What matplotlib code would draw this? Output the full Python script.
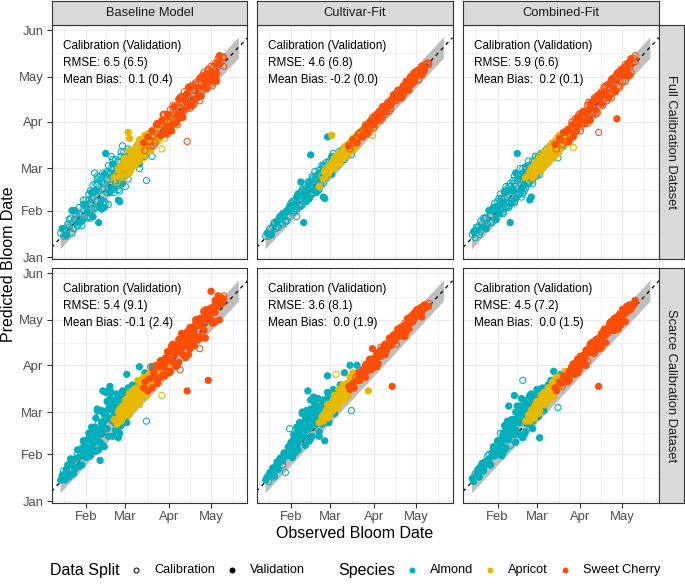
import matplotlib.pyplot as plt
from matplotlib.lines import Line2D

plt.rcParams['font.family'] = ['Liberation Sans', 'DejaVu Sans']

# -------------------------------
# Data (day of year, Jan 1 = 1)
# -------------------------------
almond_obs = [14, 15, 16, 17, 18, 19, 20, 21, 22, 23,
              24, 25, 26, 27, 28, 29, 30, 30, 31, 32,
              32, 33, 34, 34, 35, 35, 36, 36, 37, 37,
              38, 38, 39, 39, 40, 40, 41, 41, 42, 42,
              43, 43, 44, 44, 45, 45, 46, 46, 47, 47,
              48, 48, 49, 49, 50, 50, 51, 51, 52, 52,
              53, 53, 54, 54, 55, 55, 56, 56, 57, 57,
              58, 58, 59, 59, 60, 61, 62, 63, 64, 65,
              66, 67, 68, 69, 70, 72, 74, 75, 77, 79,
              18, 20, 22, 24, 26, 27, 29, 31, 33, 34,
              35, 36, 37, 38, 39, 40, 41, 42, 43, 44,
              44, 45, 46, 47, 48, 49, 50, 51, 52, 53,
              54, 55, 56, 57, 58, 59, 60, 61, 62, 63,
              40, 45, 50, 55, 48, 52, 57, 60, 65, 70]
apricot_obs = [52, 54, 55, 56, 57, 57, 58, 58, 59, 59,
               60, 60, 61, 61, 62, 62, 63, 63, 64, 64,
               65, 65, 66, 66, 67, 67, 68, 68, 69, 69,
               70, 70, 71, 71, 72, 72, 73, 73, 74, 74,
               75, 75, 76, 76, 77, 77, 78, 79, 80, 81,
               82, 83, 84, 85, 86, 87, 88, 89, 90, 92,
               56, 58, 60, 61, 62, 63, 64, 65, 66, 67,
               68, 69, 70, 71, 72, 73, 74, 75, 76, 77,
               62, 64, 66, 68, 70, 72, 74, 76, 78, 80,
               59, 63, 65, 67, 69, 71, 73, 75, 79, 83]
cherry_obs = [73, 74, 76, 77, 78, 79, 80, 81, 82, 83,
              84, 85, 86, 87, 88, 88, 89, 90, 90, 91,
              92, 92, 93, 94, 94, 95, 96, 96, 97, 98,
              98, 99, 99, 100, 100, 101, 102, 102, 103, 104,
              104, 105, 106, 106, 107, 108, 108, 109, 110, 110,
              111, 112, 112, 113, 114, 114, 115, 116, 116, 117,
              117, 118, 119, 119, 120, 121, 121, 122, 123, 124,
              124, 124, 125, 126, 126, 127, 128, 129, 130, 130,
              80, 83, 85, 87, 89, 91, 93, 95, 97, 99,
              101, 103, 105, 107, 109, 111, 113, 115, 117, 119,
              121, 123, 125, 127, 86, 90, 94, 98, 102, 106,
              110, 114, 118, 122, 126, 88, 96, 104, 112, 120,
              92, 100, 108, 116, 124, 97, 105, 113, 119, 125]

# c = calibration, v = validation
almond_split_full = ("cvccvcccvc ccvccvcccv cvccccvccc ccvcccvccv cvccccvccc ccvcccvccc ccccvcvccc "
                     "cvcccvcccv ccvccccccc cccvcccvcc ccvcccccvc cvccccvccc ccccvccvcc cvcccccccv")
apricot_split_full = ("vcvcvcvcvc cvvcvcvcvv vcvcvvcvcc cvcvvcvcvc vcvccvcvcv ccvccvcccv "
                      "vcvvcvcvcv cvcvvcvcvc vvcvcvcvvc cvcvcvcvcv")
cherry_split_full = ("vcvccvccvc cvccvccvcv ccvccvcvcv vccvccvcvc ccvcvccvcc vccvccvccv cvccvcvccc "
                     "cvcccvcccc cvccvcvccc vcvccvccvc ccvcvccvcc cvccvccvcc vccvccvccv")
almond_split_scarce = ("vvcvvvcvvv vcvvcvvvcv vvvcvvvvvv vvvvvvvcvv vvvvvvvvvv vvvvcvvvvv vvvvvvvvvv "
                       "vvvvvvvvvv vvvvvvvcvv vvvvcvvvvv vvvvvvcvvv vvvvvvvvvv vvvvvvvvvv vvvvvvvvvv")
apricot_split_scarce = ("vvvvvvvvvv vvvvvvvvcv vvvvvvvvvv vvvcvvvvvv vvvvvvvvvv vvvvcvvvvv "
                        "vvvvvvvvvv vvvvvvvcvv vvvvvvvvvv vcvvvvvvvv")
cherry_split_scarce = ("vvvvcvvvvv vvvvvvvvvv vvvvvvvcvv vcvvvvvvvv vvvvcvvvvv vvvcvvvvvv vvvvvvvvvv "
                       "vvvvvvvvvc vvvvvvvvvv vvvcvvvvvv vvvvvvvvvv vvvvvvvvvv vvvvvvvvvv")

# predicted bloom dates, full calibration dataset
almond_base_full = [17, 20, 15, 19, 16, 23, 21, 27, 32, 20, 26, 29, 24, 34, 29, 25, 36, 39, 28, 35,
                    39, 31, 39, 28, 45, 37, 44, 33, 41, 49, 57, 33, 45, 50, 38, 49, 24, 45, 54, 36,
                    51, 39, 46, 57, 38, 50, 70, 55, 44, 58, 62, 46, 44, 56, 60, 49, 63, 55, 48, 60,
                    66, 50, 60, 55, 39, 64, 38, 60, 71, 52, 75, 60, 56, 67, 64, 59, 73, 58, 70, 68,
                    62, 72, 66, 76, 60, 75, 68, 52, 79, 68,
                    15, 26, 17, 32, 22, 30, 22, 36, 27, 43, 27, 40, 28, 45, 34, 53, 35, 52, 33, 50,
                    37, 56, 37, 53, 36, 57, 46, 66, 44, 58, 48, 65, 45, 61, 50, 71, 55, 68, 53, 66,
                    55, 34, 68, 46, 57, 46, 68, 48, 70, 63]
almond_cult_full = [15, 17, 15, 20, 16, 21, 24, 20, 25, 21, 26, 24, 30, 28, 25, 32, 32, 28, 35, 33,
                    37, 35, 31, 38, 36, 33, 41, 28, 39, 43, 35, 42, 51, 35, 45, 42, 24, 47, 40, 45,
                    47, 40, 51, 45, 40, 51, 69, 49, 43, 55, 50, 54, 46, 58, 54, 48, 56, 45, 59, 55,
                    49, 59, 56, 62, 41, 58, 40, 61, 54, 64, 62, 81, 57, 65, 63, 56, 70, 65, 68, 66,
                    71, 64, 72, 71, 66, 75, 72, 69, 79, 78,
                    16, 23, 21, 28, 23, 29, 25, 34, 38, 32, 39, 33, 43, 36, 44, 36, 44, 49, 38, 46,
                    40, 50, 43, 53, 46, 53, 44, 54, 57, 50, 58, 50, 62, 54, 60, 64, 56, 68, 60, 67,
                    46, 40, 54, 62, 44, 46, 62, 63, 62, 72]
almond_comb_full = [16, 18, 14, 21, 19, 16, 25, 23, 21, 27, 27, 23, 32, 29, 24, 34, 31, 37, 29, 35,
                    38, 30, 38, 43, 33, 40, 37, 31, 44, 40, 48, 34, 45, 41, 48, 37, 24, 48, 46, 37,
                    52, 45, 38, 55, 48, 43, 70, 52, 43, 55, 53, 60, 46, 56, 52, 60, 49, 57, 61, 47,
                    60, 56, 65, 50, 39, 61, 41, 60, 65, 58, 64, 60, 68, 56, 65, 68, 60, 67, 70, 68,
                    68, 73, 65, 74, 71, 76, 72, 67, 80, 75,
                    21, 18, 27, 20, 32, 24, 33, 26, 40, 32, 40, 30, 45, 35, 45, 35, 50, 38, 46, 37,
                    50, 40, 56, 43, 55, 41, 55, 45, 61, 50, 62, 51, 62, 50, 61, 68, 55, 65, 56, 70,
                    34, 57, 43, 60, 43, 60, 53, 66, 62, 74]
apricot_base_full = [54, 51, 59, 57, 55, 62, 61, 54, 65, 59, 57, 64, 63, 56, 84, 65, 80, 61, 69, 60,
                     68, 71, 64, 70, 68, 64, 73, 70, 65, 72, 76, 69, 73, 75, 69, 77, 74, 71, 77, 81,
                     73, 79, 77, 72, 82, 79, 75, 85, 81, 79, 85, 78, 88, 84, 73, 92, 80, 91, 86, 93,
                     61, 54, 67, 59, 66, 57, 72, 62, 72, 62, 75, 65, 79, 69, 77, 67, 82, 72, 82, 76,
                     65, 72, 62, 74, 65, 76, 71, 83, 72, 82, 54, 72, 62, 73, 67, 79, 69, 80, 82, 79]
apricot_cult_full = [48, 55, 53, 58, 57, 60, 57, 60, 60, 57, 62, 59, 82, 62, 60, 65, 63, 65, 63, 67,
                     66, 63, 69, 66, 69, 66, 71, 69, 67, 71, 70, 73, 70, 73, 73, 70, 76, 73, 76, 73,
                     77, 74, 79, 77, 75, 79, 78, 82, 79, 83, 83, 81, 86, 84, 89, 87, 90, 88, 82, 89,
                     58, 55, 63, 60, 64, 67, 62, 68, 63, 68, 71, 67, 74, 68, 74, 72, 77, 73, 80, 74,
                     60, 67, 63, 70, 74, 70, 77, 72, 80, 83, 62, 61, 69, 64, 71, 75, 71, 78, 75, 85]
apricot_comb_full = [54, 53, 58, 56, 54, 59, 62, 56, 60, 62, 58, 63, 62, 58, 66, 64, 62, 66, 62, 69,
                     66, 69, 64, 69, 66, 69, 73, 65, 71, 69, 73, 68, 75, 72, 69, 74, 73, 77, 73, 77,
                     77, 72, 81, 77, 75, 80, 82, 78, 82, 77, 85, 84, 82, 89, 74, 89, 85, 90, 88, 96,
                     60, 55, 65, 59, 68, 59, 67, 70, 63, 71, 64, 74, 68, 77, 69, 78, 76, 71, 82, 75,
                     67, 60, 72, 65, 74, 67, 80, 74, 81, 76, 63, 60, 70, 63, 75, 69, 77, 70, 82, 80]
cherry_base_full = [77, 72, 81, 78, 75, 85, 82, 77, 89, 83, 89, 82, 89, 95, 86, 92, 84, 96, 91, 88,
                    99, 94, 89, 99, 93, 101, 99, 90, 101, 106, 96, 104, 100, 96, 107, 104, 99, 108,
                    105, 78, 109, 103, 114, 107, 102, 112, 115, 106, 112, 116, 107, 117, 113, 120,
                    111, 117, 121, 114, 124, 118, 121, 113, 125, 121, 118, 128, 124, 118, 128, 125,
                    130, 121, 129, 128, 133, 135, 131, 134, 128, 134,
                    75, 90, 82, 96, 83, 95, 85, 101, 95, 107, 94, 108, 101, 115, 103, 114, 105, 122,
                    114, 125, 116, 127, 118, 132, 92, 83, 102, 93, 111, 100, 117, 108, 123, 115, 130,
                    96, 91, 110, 108, 123, 85, 108, 102, 121, 121, 89, 114, 109, 126, 123]
cherry_cult_full = [75, 73, 79, 77, 80, 77, 81, 84, 81, 85, 84, 88, 84, 88, 90, 87, 92, 90, 92, 89,
                    93, 95, 92, 96, 94, 98, 94, 97, 99, 98, 101, 98, 101, 101, 98, 104, 102, 104,
                    102, 105, 106, 105, 109, 105, 109, 109, 111, 107, 110, 112, 112, 115, 111, 115,
                    114, 112, 118, 117, 118, 116, 119, 118, 122, 120, 118, 123, 121, 125, 124, 123,
                    126, 125, 128, 125, 128, 127, 129, 130, 129, 130,
                    83, 81, 89, 84, 91, 87, 96, 94, 101, 96, 103, 100, 109, 105, 112, 107, 115, 112,
                    121, 117, 124, 119, 127, 125, 83, 94, 92, 101, 98, 108, 107, 118, 116, 125, 124,
                    91, 92, 106, 109, 124, 95, 98, 112, 112, 126, 94, 108, 111, 123, 122]
cherry_comb_full = [76, 73, 80, 79, 76, 84, 81, 78, 86, 85, 82, 89, 87, 93, 85, 90, 94, 89, 93, 92,
                    96, 90, 98, 95, 97, 92, 102, 98, 96, 92, 101, 104, 97, 104, 101, 107, 99, 104,
                    108, 84, 108, 107, 103, 111, 110, 106, 114, 110, 114, 109, 116, 114, 109, 119,
                    115, 118, 113, 121, 119, 93, 119, 124, 118, 123, 123, 118, 126, 124, 129, 125,
                    128, 122, 130, 129, 127, 133, 130, 133, 131, 135,
                    84, 78, 91, 84, 94, 85, 97, 91, 104, 97, 106, 97, 108, 102, 115, 107, 118, 112,
                    123, 114, 125, 118, 130, 124, 81, 96, 90, 103, 96, 110, 105, 120, 115, 127, 122,
                    92, 90, 109, 109, 126, 97, 96, 114, 111, 127, 92, 109, 107, 124, 122]

# predicted bloom dates, scarce calibration dataset
almond_base_scarce = [15, 18, 21, 15, 22, 25, 19, 29, 25, 19, 29, 27, 35, 24, 32, 36, 32, 41, 36, 30,
                      40, 36, 46, 35, 31, 44, 42, 50, 35, 44, 48, 42, 56, 41, 48, 62, 35, 53, 45, 28,
                      61, 49, 74, 53, 59, 49, 73, 58, 67, 49, 74, 56, 64, 77, 55, 73, 61, 54, 68, 58,
                      65, 48, 72, 62, 57, 69, 46, 63, 68, 54, 67, 74, 63, 71, 67, 85, 58, 72, 69, 78,
                      69, 75, 74, 79, 90, 76, 86, 54, 84, 90,
                      20, 17, 27, 22, 32, 30, 25, 38, 35, 43, 32, 44, 39, 50, 34, 46, 57, 40, 53, 48,
                      38, 54, 49, 61, 44, 69, 56, 44, 63, 55, 62, 50, 69, 61, 55, 69, 66, 53, 76, 68,
                      61, 37, 65, 43, 66, 61, 51, 72, 69, 78]
almond_cult_scarce = [15, 17, 14, 20, 19, 23, 17, 23, 27, 22, 27, 30, 28, 33, 20, 33, 37, 32, 49, 37,
                      40, 36, 45, 38, 44, 33, 50, 42, 40, 47, 45, 53, 43, 51, 49, 60, 44, 47, 55, 50,
                      61, 48, 74, 54, 59, 52, 68, 57, 62, 51, 60, 68, 55, 65, 59, 63, 54, 69, 59, 62,
                      64, 57, 68, 52, 63, 67, 62, 41, 66, 62, 84, 65, 71, 62, 70, 67, 75, 71, 68, 74,
                      71, 78, 71, 77, 86, 78, 91, 61, 81, 91,
                      19, 18, 25, 29, 25, 31, 31, 37, 30, 42, 40, 46, 35, 45, 51, 43, 50, 38, 57, 50,
                      55, 49, 62, 44, 56, 62, 52, 61, 47, 60, 63, 53, 68, 62, 73, 53, 68, 64, 73, 59,
                      59, 41, 64, 62, 70, 44, 67, 66, 68, 75]
almond_comb_scarce = [16, 14, 19, 18, 22, 17, 23, 26, 23, 27, 26, 31, 29, 25, 33, 37, 34, 31, 38, 35,
                      41, 35, 40, 46, 38, 42, 33, 46, 42, 51, 44, 49, 42, 54, 48, 42, 54, 46, 52, 46,
                      55, 50, 71, 53, 60, 48, 64, 56, 53, 60, 64, 53, 60, 69, 81, 58, 65, 55, 64, 59,
                      62, 68, 59, 66, 57, 65, 72, 62, 68, 54, 66, 71, 63, 69, 75, 66, 43, 72, 76, 71,
                      73, 70, 78, 74, 81, 87, 78, 63, 85, 85,
                      20, 24, 21, 27, 32, 25, 34, 32, 40, 37, 31, 45, 42, 36, 50, 47, 38, 55, 49, 45,
                      54, 40, 60, 53, 45, 61, 58, 45, 67, 57, 52, 66, 63, 49, 71, 64, 69, 57, 68, 73,
                      64, 48, 43, 71, 56, 47, 69, 69, 61, 76]
apricot_base_scarce = [55, 52, 60, 57, 61, 54, 60, 64, 58, 62, 65, 61, 59, 65, 69, 64, 60, 68, 67, 72,
                       67, 71, 70, 65, 72, 70, 76, 69, 73, 67, 76, 73, 70, 76, 74, 79, 77, 70, 80, 76,
                       80, 76, 83, 79, 75, 83, 82, 81, 85, 84, 86, 85, 90, 84, 71, 90, 89, 93, 92, 86,
                       62, 56, 68, 64, 58, 72, 66, 72, 63, 72, 76, 70, 65, 80, 76, 83, 72, 81, 79, 85,
                       69, 61, 75, 70, 81, 71, 80, 79, 86, 78, 63, 73, 63, 74, 81, 72, 81, 71, 85, 86]
apricot_cult_scarce = [53, 57, 54, 58, 61, 57, 61, 56, 61, 64, 63, 61, 65, 63, 61, 67, 66, 64, 85, 66,
                       69, 67, 71, 65, 70, 73, 69, 72, 71, 72, 75, 72, 74, 77, 73, 76, 71, 78, 77, 75,
                       79, 81, 78, 79, 82, 78, 82, 82, 82, 86, 85, 84, 88, 87, 89, 74, 90, 90, 93, 92,
                       59, 65, 59, 66, 64, 71, 68, 63, 72, 70, 73, 71, 78, 70, 78, 76, 83, 76, 80, 84,
                       68, 65, 75, 71, 68, 79, 78, 86, 80, 85, 63, 71, 67, 73, 78, 70, 78, 78, 86, 85]
apricot_comb_scarce = [54, 58, 54, 59, 58, 62, 56, 61, 61, 65, 61, 64, 63, 67, 65, 61, 68, 65, 68, 71,
                       68, 66, 71, 68, 73, 71, 68, 71, 76, 71, 74, 76, 73, 76, 73, 75, 79, 75, 78, 79,
                       78, 80, 78, 83, 81, 78, 81, 84, 82, 85, 85, 87, 85, 90, 88, 90, 88, 91, 94, 93,
                       61, 59, 67, 59, 66, 71, 66, 71, 65, 72, 71, 76, 71, 77, 70, 78, 82, 77, 82, 81,
                       64, 70, 65, 76, 74, 75, 83, 77, 83, 87, 65, 66, 73, 68, 74, 80, 75, 82, 83, 82]
cherry_base_scarce = [76, 80, 74, 82, 90, 76, 87, 83, 91, 82, 90, 83, 94, 90, 84, 95, 94, 100, 87, 95,
                      100, 94, 104, 93, 100, 104, 92, 103, 100, 108, 103, 88, 107, 102, 112, 98, 108,
                      111, 104, 74, 111, 108, 102, 116, 113, 106, 116, 113, 121, 109, 117, 121, 109,
                      102, 119, 122, 117, 127, 114, 124, 121, 127, 81, 125, 123, 140, 129, 119, 128,
                      134, 131, 126, 134, 130, 137, 133, 136, 132, 135, 137,
                      86, 79, 94, 85, 96, 86, 103, 98, 91, 107, 105, 96, 114, 109, 104, 121, 110, 122,
                      109, 124, 127, 119, 133, 121, 93, 87, 105, 93, 108, 104, 118, 109, 128, 119, 132,
                      92, 90, 113, 108, 127, 87, 108, 111, 126, 120, 103, 98, 122, 121, 130]
cherry_cult_scarce = [77, 75, 79, 76, 83, 81, 86, 81, 85, 88, 86, 91, 87, 91, 91, 95, 88, 102, 95, 93,
                      96, 93, 99, 97, 92, 100, 98, 103, 100, 99, 103, 101, 105, 103, 101, 105, 109,
                      104, 108, 77, 107, 111, 107, 111, 110, 115, 110, 113, 116, 111, 114, 117, 114,
                      119, 115, 118, 122, 119, 121, 119, 123, 120, 123, 120, 125, 124, 127, 124, 127,
                      127, 126, 129, 126, 129, 130, 129, 129, 130, 130, 132,
                      82, 88, 83, 91, 95, 92, 90, 100, 100, 98, 105, 104, 111, 105, 112, 116, 112, 119,
                      119, 125, 124, 128, 123, 131, 92, 89, 97, 103, 104, 110, 115, 113, 121, 128, 128,
                      92, 97, 109, 110, 123, 96, 102, 114, 115, 127, 102, 107, 110, 123, 128]
cherry_comb_scarce = [76, 74, 80, 79, 77, 84, 81, 84, 80, 87, 85, 90, 88, 85, 92, 89, 95, 93, 90, 95,
                      94, 97, 92, 98, 95, 101, 99, 94, 102, 100, 102, 100, 105, 99, 103, 106, 104,
                      108, 104, 77, 109, 107, 112, 109, 106, 112, 115, 111, 115, 113, 113, 118, 116,
                      114, 119, 117, 122, 118, 120, 123, 120, 123, 120, 125, 122, 125, 128, 125, 128,
                      126, 128, 130, 127, 129, 131, 128, 131, 131, 134, 133,
                      83, 81, 90, 88, 86, 97, 95, 91, 101, 106, 99, 108, 106, 113, 106, 115, 120, 114,
                      122, 121, 125, 120, 130, 129, 92, 88, 98, 105, 103, 103, 115, 116, 115, 128, 130,
                      87, 101, 107, 119, 118, 94, 106, 106, 120, 127, 102, 102, 119, 120, 129]

models = ["Baseline Model", "Cultivar-Fit", "Combined-Fit"]
datasets = ["Full Calibration Dataset", "Scarce Calibration Dataset"]
species = ["Almond", "Apricot", "Sweet Cherry"]
colors = ["#00AFBB", "#E7B800", "#FC4E07"]

rmse_cal = [[6.5, 4.6, 5.9], [5.4, 3.6, 4.5]]
rmse_val = [[6.5, 6.8, 6.6], [9.1, 8.1, 7.2]]
bias_cal = [[0.1, -0.2, 0.2], [-0.1, 0.0, 0.0]]
bias_val = [[0.4, 0.0, 0.1], [2.4, 1.9, 1.5]]

month_days = [1, 32, 60, 91, 121, 152]
month_names = ["Jan", "Feb", "Mar", "Apr", "May", "Jun"]
band_start, band_end, band_half = 13.5, 140.5, 7

obs = [almond_obs, apricot_obs, cherry_obs]
splits = [
    [almond_split_full, apricot_split_full, cherry_split_full],
    [almond_split_scarce, apricot_split_scarce, cherry_split_scarce],
]
preds = [
    [[almond_base_full, apricot_base_full, cherry_base_full],
     [almond_cult_full, apricot_cult_full, cherry_cult_full],
     [almond_comb_full, apricot_comb_full, cherry_comb_full]],
    [[almond_base_scarce, apricot_base_scarce, cherry_base_scarce],
     [almond_cult_scarce, apricot_cult_scarce, cherry_cult_scarce],
     [almond_comb_scarce, apricot_comb_scarce, cherry_comb_scarce]],
]

# -------------------------------
# Layout (pixels)
# -------------------------------
W, H = 685, 585
fig = plt.figure(figsize=(W / 100, H / 100), dpi=100)
edge = "#333333"


def box(x0, y0, x1, y1):
    return [x0 / W, 1 - y1 / H, (x1 - x0) / W, (y1 - y0) / H]


def strip(rect, label, rot):
    st = fig.add_axes(rect)
    st.set_facecolor("#D9D9D9")
    st.set_xticks([])
    st.set_yticks([])
    for s in st.spines.values():
        s.set_color(edge)
        s.set_linewidth(0.8)
    st.text(0.5, 0.5, label, ha="center", va="center", rotation=rot,
            fontsize=9.3, color="#1A1A1A", transform=st.transAxes)


col_px = [(51.5, 247.5), (256.5, 452.5), (463, 659)]
row_px = [(25, 259), (268, 503)]
mids = [(a + b) / 2 for a, b in zip(month_days[:-1], month_days[1:])]

for r in range(2):
    for c in range(3):
        x0, x1 = col_px[c]
        y0, y1 = row_px[r]
        ax = fig.add_axes(box(x0, y0, x1, y1))
        ax.set_xlim(7.4, 147)
        ax.set_ylim(-0.2, 155.4)

        ax.set_xticks(month_days[1:5])
        ax.set_yticks(month_days)
        ax.set_xticks(mids, minor=True)
        ax.set_yticks(mids, minor=True)
        ax.grid(which="major", color="#EBEBEB", lw=0.9)
        ax.grid(which="minor", color="#EBEBEB", lw=0.5)
        ax.set_axisbelow(True)
        ax.tick_params(which="minor", length=0)
        ax.tick_params(which="major", length=3.8, width=0.8, color=edge,
                       labelcolor="#4D4D4D", labelsize=9.4, pad=2)
        for s in ax.spines.values():
            s.set_color(edge)
            s.set_linewidth(0.8)

        if c == 0:
            ax.set_yticklabels(month_names)
        else:
            ax.tick_params(axis="y", left=False, labelleft=False)
        if r == 1:
            ax.set_xticklabels(month_names[1:5])
        else:
            ax.tick_params(axis="x", bottom=False, labelbottom=False)

        # one-week band and 1:1 line
        ax.fill_between([band_start, band_end],
                        [band_start - band_half, band_end - band_half],
                        [band_start + band_half, band_end + band_half],
                        color="#BEBEBE", lw=0, zorder=1)
        ax.axline((0, 0), slope=1, color="black", lw=0.9, ls=(0, (3, 3)), zorder=2)

        for k in range(3):
            sp = splits[r][k].replace(" ", "")
            fc = [colors[k] if s == "v" else "none" for s in sp]
            ax.scatter(obs[k], preds[r][c][k], s=20, facecolors=fc,
                       edgecolors=colors[k], linewidths=0.75, zorder=3)

        lines = ["Calibration (Validation)",
                 f"RMSE: {rmse_cal[r][c]:.1f} ({rmse_val[r][c]:.1f})",
                 f"Mean Bias: {bias_cal[r][c]:4.1f} ({bias_val[r][c]:.1f})"]
        for txt, yy in zip(lines, [141.4, 130.4, 118.8]):
            ax.text(15.4, yy, txt, fontsize=8.5, va="center", ha="left", zorder=4)

        if r == 0:
            strip(box(x0, 1, x1, 25), models[c], 0)
        if c == 2:
            strip(box(659, y0, 684, y1), datasets[r], -90)

fig.text(9 / W, 1 - 264 / H, "Predicted Bloom Date", rotation=90,
         ha="center", va="center", fontsize=11.5)
fig.text(355 / W, 1 - 533 / H, "Observed Bloom Date", ha="center", va="center", fontsize=11.5)

# -------------------------------
# Legend
# -------------------------------
ly = 1 - 570 / H
fig.text(50 / W, ly, "Data Split", fontsize=11.5, va="center")
fig.add_artist(Line2D([136 / W], [ly], marker="o", mfc="none", mec="black", ms=3.6, mew=0.7,
                      transform=fig.transFigure))
fig.text(154 / W, ly, "Calibration", fontsize=9.2, va="center")
fig.add_artist(Line2D([232 / W], [ly], marker="o", mfc="black", mec="black", ms=3.6, mew=0.7,
                      transform=fig.transFigure))
fig.text(250 / W, ly, "Validation", fontsize=9.2, va="center")
fig.text(338 / W, ly, "Species", fontsize=11.5, va="center")
for k, (px_dot, px_txt) in enumerate([(412, 430), (490, 508), (565, 583)]):
    fig.add_artist(Line2D([px_dot / W], [ly], marker="o", mfc=colors[k], mec=colors[k],
                          ms=3.6, mew=0.7, transform=fig.transFigure))
    fig.text(px_txt / W, ly, species[k], fontsize=9.2, va="center")

plt.savefig("out.png", dpi=100)
